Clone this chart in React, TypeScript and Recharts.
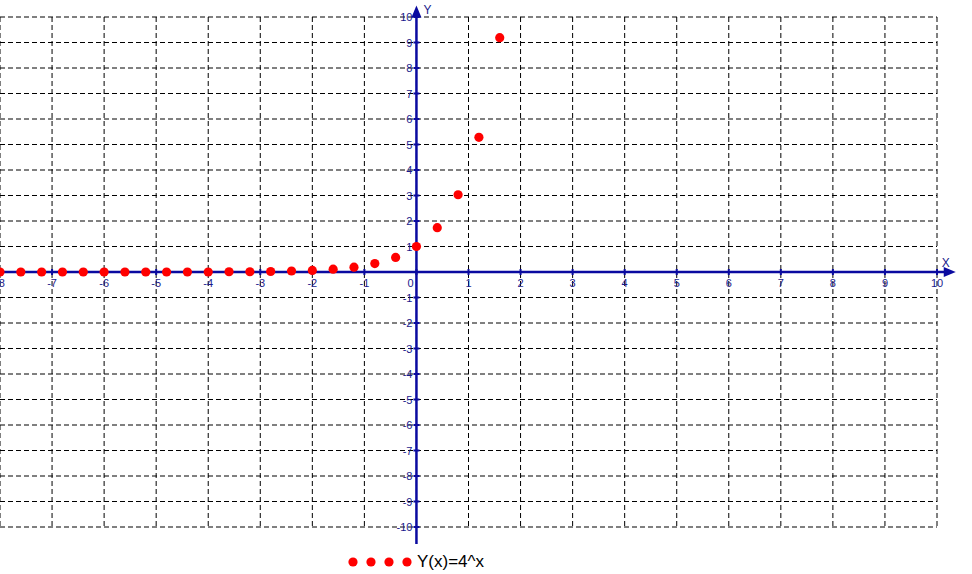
import React from 'react';
import { ScatterChart, Scatter, XAxis, YAxis, CartesianGrid, ReferenceLine, ReferenceDot } from 'recharts';

const xValues = [-8, -7.6, -7.2, -6.8, -6.4, -6, -5.6, -5.2, -4.8, -4.4, -4, -3.6, -3.2, -2.8, -2.4, -2, -1.6, -1.2, -0.8, -0.4, 0, 0.4, 0.8, 1.2, 1.6];
const yValues = [0, 0, 0, 0, 0, 0, 0, 0, 0, 0, 0, 0.01, 0.01, 0.02, 0.04, 0.06, 0.11, 0.19, 0.33, 0.57, 1, 1.74, 3.03, 5.28, 9.19];
const xTicks = [-8, -7, -6, -5, -4, -3, -2, -1, 0, 1, 2, 3, 4, 5, 6, 7, 8, 9, 10];
const yTicks = [-10, -9, -8, -7, -6, -5, -4, -3, -2, -1, 0, 1, 2, 3, 4, 5, 6, 7, 8, 9, 10];
const seriesName = 'Y(x)=4^x';

const data = xValues.map((x, i) => ({ x, y: yValues[i] }));

const AXIS = '#0a0aa0';
const LABEL = '#1a1a8c';
const FONT = 'Arial, "Liberation Sans", sans-serif';

const ArrowLine = (props: any) => {
  const { x1, y1, x2, y2, axisName } = props;
  const horizontal = Math.abs(y1 - y2) < 1;
  let tipX: number, tipY: number, startX: number, startY: number;
  if (horizontal) {
    tipX = Math.max(x1, x2); startX = Math.min(x1, x2); tipY = y1; startY = y1;
  } else {
    tipY = Math.min(y1, y2); startY = Math.max(y1, y2); tipX = x1; startX = x1;
  }
  const pts = horizontal
    ? `${tipX},${tipY} ${tipX - 12},${tipY - 5} ${tipX - 12},${tipY + 5}`
    : `${tipX},${tipY} ${tipX - 5},${tipY + 12} ${tipX + 5},${tipY + 12}`;
  return (
    <g>
      <line x1={startX} y1={startY} x2={horizontal ? tipX - 8 : tipX} y2={horizontal ? tipY : tipY + 8} stroke={AXIS} strokeWidth={2.5} />
      <polygon points={pts} fill={AXIS} />
      {horizontal ? (
        <text x={tipX - 10} y={tipY - 5} fontSize={12} fontFamily={FONT} fill={LABEL} textAnchor="middle">{axisName}</text>
      ) : (
        <text x={tipX + 11} y={tipY + 8} fontSize={12} fontFamily={FONT} fill={LABEL} textAnchor="middle">{axisName}</text>
      )}
    </g>
  );
};

const XTickShape = (props: any) => {
  const { cx, cy, value } = props;
  return (
    <g>
      <line x1={cx} y1={cy - 3} x2={cx} y2={cy + 3} stroke={AXIS} strokeWidth={2} />
      <text x={value === 0 ? cx - 6 : cx} y={cy + 15} fontSize={11} fontFamily={FONT} fill={LABEL} textAnchor="middle">{String(value)}</text>
    </g>
  );
};

const YTickShape = (props: any) => {
  const { cx, cy, value } = props;
  return (
    <g>
      <line x1={cx - 3} y1={cy} x2={cx + 3} y2={cy} stroke={AXIS} strokeWidth={2} />
      <text x={cx - 4} y={cy + 4} fontSize={11} fontFamily={FONT} fill={LABEL} textAnchor="end">{String(value)}</text>
    </g>
  );
};

const Dot = (props: any) => {
  const { cx, cy } = props;
  return <circle cx={cx} cy={cy} r={4.6} fill="#ff0000" />;
};

const LegendBox = () => (
  <div style={{ position: 'absolute', left: 345, top: 553, display: 'flex', alignItems: 'center', fontFamily: FONT, fontSize: 17, color: '#000', lineHeight: '18px' }}>
    <svg width={72} height={18}>
      {[8, 26, 44, 62].map((cx) => (
        <circle key={cx} cx={cx} cy={9} r={4.6} fill="#ff0000" />
      ))}
    </svg>
    <span>{seriesName}</span>
  </div>
);

export default function App() {
  return (
    <div style={{ position: 'absolute', left: 0, top: 0, width: 972, height: 574, background: '#fff' }}>
      <ScatterChart width={972} height={574} margin={{ top: 17, right: 35, bottom: 47, left: 0 }}>
        <XAxis type="number" dataKey="x" domain={[-8, 10]} ticks={xTicks} hide allowDataOverflow />
        <YAxis type="number" dataKey="y" domain={[-10, 10]} ticks={yTicks} hide allowDataOverflow />
        <CartesianGrid stroke="#000" strokeDasharray="5 3" strokeWidth={1} />
        <ReferenceLine
          segment={[{ x: -8, y: 0 }, { x: 10.36, y: 0 }]}
          ifOverflow="visible"
          shape={(p: any) => <ArrowLine {...p} axisName="X" />}
        />
        <ReferenceLine
          segment={[{ x: 0, y: -10.67 }, { x: 0, y: 10.45 }]}
          ifOverflow="visible"
          shape={(p: any) => <ArrowLine {...p} axisName="Y" />}
        />
        {xTicks.map((t) => (
          <ReferenceDot key={'xt' + t} x={t} y={0} r={0} ifOverflow="visible" shape={(p: any) => <XTickShape {...p} value={t} />} />
        ))}
        {yTicks.filter((t) => t !== 0).map((t) => (
          <ReferenceDot key={'yt' + t} x={0} y={t} r={0} ifOverflow="visible" shape={(p: any) => <YTickShape {...p} value={t} />} />
        ))}
        <Scatter name={seriesName} data={data} shape={Dot} isAnimationActive={false} />
      </ScatterChart>
      <LegendBox />
    </div>
  );
}
